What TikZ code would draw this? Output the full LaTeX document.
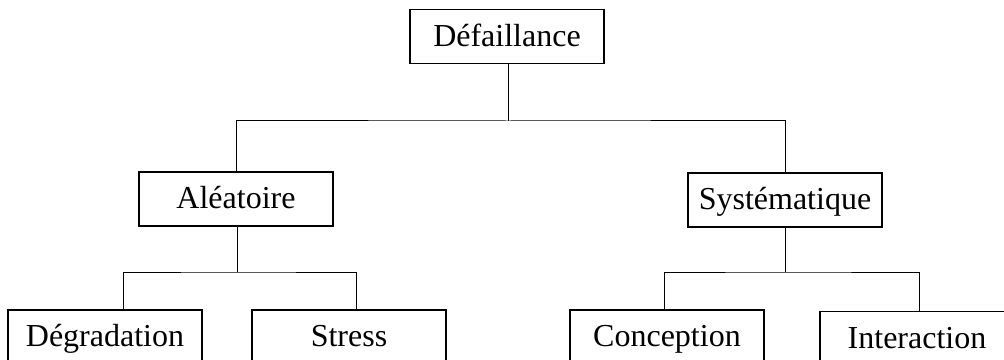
\documentclass[tikz,border=0pt]{standalone}
\usepackage{fontspec}
\setmainfont{Liberation Serif}
\usepackage{tikz}

\begin{document}
\begin{tikzpicture}[x=0.75pt, y=-0.75pt, line width=0.75pt,
	box/.style={draw, line width=0.8pt, minimum width=145.5pt, minimum height=40.5pt,
		inner sep=0pt, text height=16.5pt, text depth=2pt,
		font=\fontsize{24}{28}\selectfont}]
	\useasboundingbox (0,0) rectangle (1004,360);
	\clip (0,0) rectangle (1004,360);
	% nodes
	\node[box] (def) at (507,36.5) {Défaillance};
	\node[box] (alea) at (236,199) {Aléatoire};
	\node[box] (syst) at (785,200) {Systématique};
	\node[box] (degr) at (105,337) {Dégradation};
	\node[box] (stress) at (349,337) {Stress};
	\node[box] (conc) at (667,337) {Conception};
	\node[box] (inter) at (917,338.7) {Interaction};
	% forks
	\coordinate (deffork) at (508,121);
	\coordinate (aleafork) at (237,272);
	\coordinate (systfork) at (785,272);
	\draw ([xshift=0.75pt]def.south) -- (deffork);
	\draw (alea) |- (deffork) -| (syst);
	\draw ([xshift=0.75pt]alea.south) -- (aleafork);
	\draw ([xshift=13.5pt]degr.north) |- (aleafork) -| ([xshift=5.25pt]stress.north);
	\draw (syst) -- (systfork);
	\draw ([xshift=-2.25pt]conc.north) |- (systfork) -| ([xshift=1.5pt]inter.north);
\end{tikzpicture}
\end{document}
